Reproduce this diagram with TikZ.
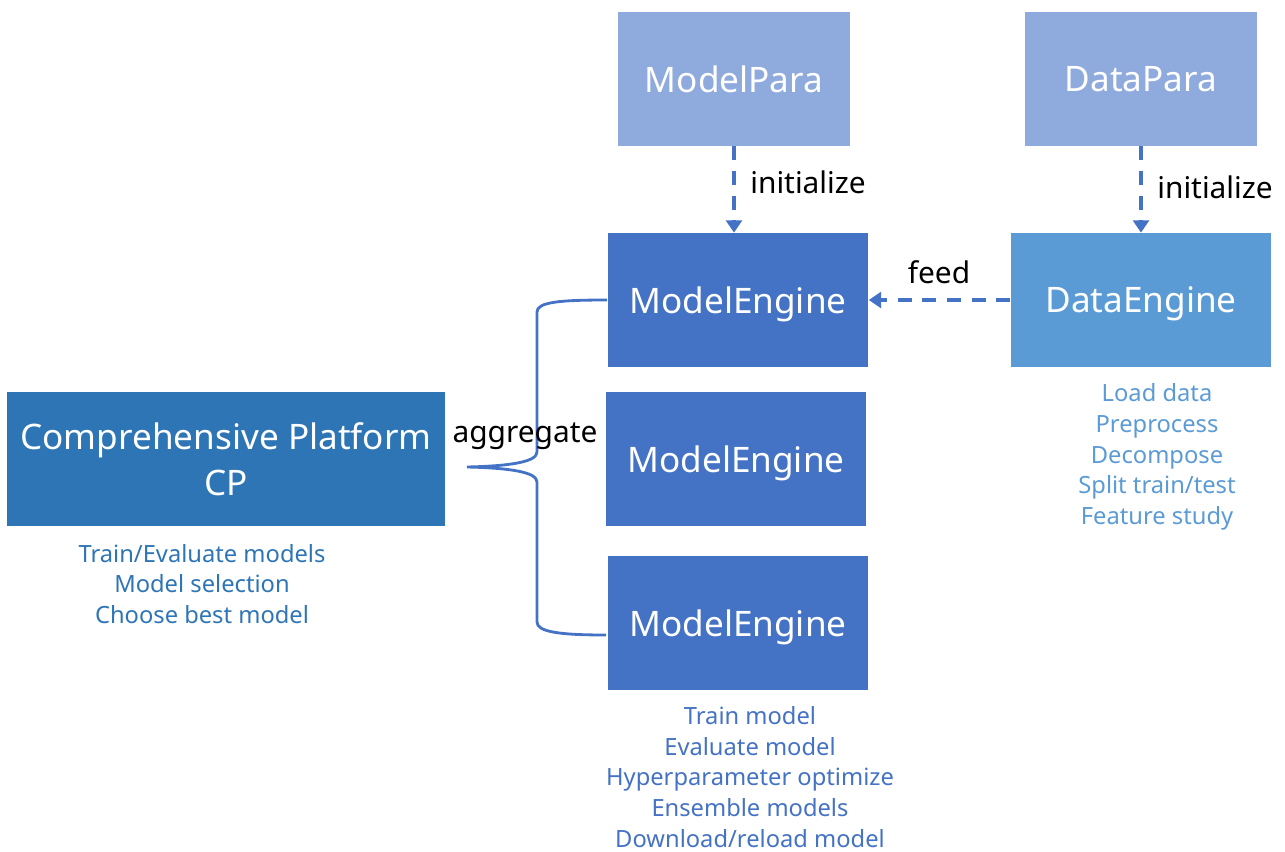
\documentclass[tikz,border=0pt]{standalone}
\usepackage{fontspec}
\setmainfont{Noto Sans}
\usepackage{xcolor}
\usetikzlibrary{arrows.meta,calc}
\definecolor{paracol}{HTML}{8FAADC}
\definecolor{enginecol}{HTML}{4472C4}
\definecolor{datacol}{HTML}{5B9BD5}
\definecolor{cpcol}{HTML}{2E75B6}
\tikzset{
    box/.style={draw=none, text=white, font=\fontsize{20}{26}\selectfont, align=center, inner sep=0pt, text depth=0pt},
    parabox/.style={box, fill=paracol, minimum width=4.64cm, minimum height=2.68cm},
    enginebox/.style={box, fill=enginecol, minimum width=5.22cm, minimum height=2.68cm},
    link/.style={enginecol, line width=2.6pt, dash pattern=on 8pt off 6pt, -{Triangle[width=9pt,length=7pt]}},
    tag/.style={font=\fontsize{17}{20}\selectfont, text=black, inner sep=0pt},
    duty/.style={font=\fontsize{13.5}{17.5}\selectfont, align=center, inner sep=0pt}
}

\begin{document}
\begin{tikzpicture}[x=0.02cm, y=-0.02cm]
                \useasboundingbox (0,0) rectangle (1285,852);
                % boxes
                \node[parabox] (modelpara) at (734,79) {ModelPara};
                \node[parabox] (datapara) at (1141,79) {DataPara};
                \node[enginebox] (engine1) at (738,300) {ModelEngine};
                \node[enginebox, fill=datacol] (dataengine) at (1141,300) {DataEngine};
                \node[enginebox, minimum height=2.7cm] (engine2) at (736,459) {ModelEngine};
                \node[enginebox] (engine3) at (738,623) {ModelEngine};
                \node[box, fill=cpcol, minimum width=8.76cm, minimum height=2.7cm] (cp) at (226,459) {Comprehensive Platform\\CP};
                % arrows
                \draw[link] (modelpara.south) -- (modelpara.south |- engine1.north);
                \draw[link] (datapara.south) -- (datapara.south |- dataengine.north);
                \draw[link] (dataengine.west) -- (engine1.east);
                \node[tag, anchor=west] (init1) at (750,182) {initialize};
                \node[tag, anchor=west] (init2) at (1157,187) {initialize};
                \node[tag] (feed) at (939,272) {feed};
                % brace
                \coordinate (bracetip) at (467,467);
                \coordinate (bracebot) at (606,635);
                \draw[enginecol, line width=1.6pt] (engine1.west) .. controls (560,300) and (537,302) .. (537,312) -- (537,452)
                    .. controls (537,462) and (510,466) .. (bracetip)
                    .. controls (510,468) and (537,472) .. (537,482) -- (537,622)
                    .. controls (537,632) and (560,635) .. (bracebot);
                \node[tag] (aggregate) at (525,436) {aggregate};
                % duties
                \node[duty, text=cpcol] (cpduty) at (202,584) {Train/Evaluate models\\Model selection\\Choose best model};
                \node[duty, text=datacol] (dataduty) at (1157,457) {Load data\\Preprocess\\Decompose\\Split train/test\\Feature study};
                \node[duty, text=enginecol] (engineduty) at (750,777) {Train model\\Evaluate model\\Hyperparameter optimize\\Ensemble models\\Download/reload model};
            \end{tikzpicture}
\end{document}
